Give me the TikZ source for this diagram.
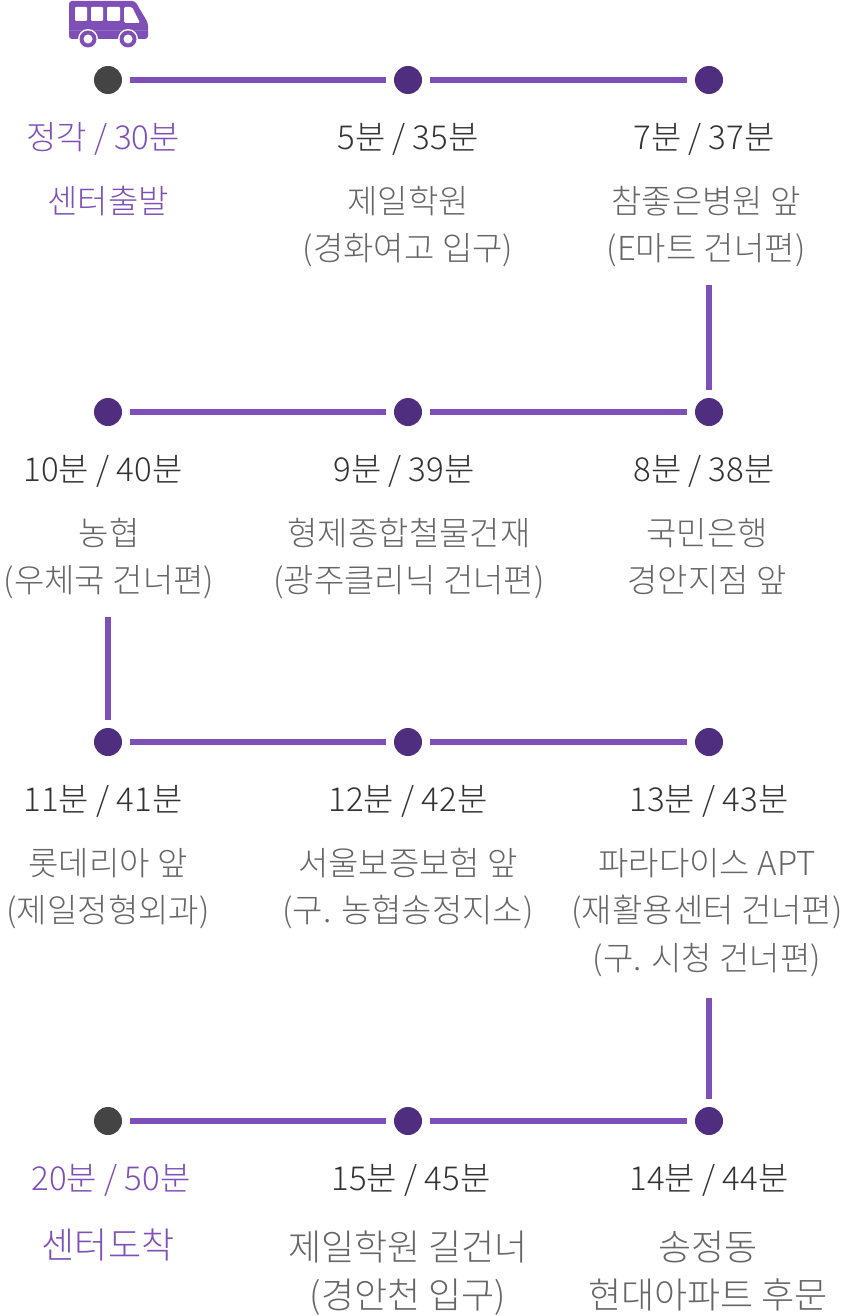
\documentclass[tikz,border=0pt]{standalone}
\usepackage{fontspec}
\setmainfont{Noto Sans CJK KR Light}
\usetikzlibrary{positioning}
\definecolor{linepurple}{HTML}{7E4FB6}
\definecolor{dotpurple}{HTML}{4F2D7F}
\definecolor{dotgrey}{HTML}{444444}
\definecolor{timegrey}{HTML}{333333}
\definecolor{namegrey}{HTML}{666666}
\tikzset{
  stopdot/.style={circle,fill=dotpurple,minimum size=28pt,inner sep=0pt,outer sep=0pt},
  enddot/.style={stopdot,fill=dotgrey},
  timelbl/.style={inner sep=0pt,outer sep=0pt,text=timegrey,align=center,font=\fontsize{33}{47.5}\selectfont,execute at begin node=\strut},
  namelbl/.style={timelbl,text=namegrey},
  lastlbl/.style={namelbl,font=\fontsize{36}{47.5}\selectfont},
  conn/.style={draw=linepurple,line width=6pt,shorten >=8pt,shorten <=8pt},
}
\begin{document}
\begin{tikzpicture}[x=1pt,y=1pt,node distance=301pt]
  \useasboundingbox (0,0) rectangle (855,-1316);
  % bus
  \begin{scope}[shift={(0,0)}]
    \fill[linepurple,rounded corners=3pt] (69,-1) -- (135,-1) -- (148,-23) -- (148,-39) -- (69,-39) -- cycle;
    \draw[white,opacity=.15,line width=.8pt] (69,-30.5) -- (148,-30.5);
    \fill[white,rounded corners=1pt] (75,-7) rectangle (87,-21) (91,-7) rectangle (103,-21) (107,-7) rectangle (120,-21);
    \fill[white,rounded corners=1.5pt] (124,-7) -- (132,-7) -- (140,-23) -- (124,-23) -- cycle;
    \foreach \wx in {88,128}{
      \fill[white] (\wx,-39) circle (10pt);
      \fill[linepurple] (\wx,-39) circle (8.5pt);
      \fill[white] (\wx,-39) circle (4.5pt);
    }
  \end{scope}
  % stops
  \node[enddot] at (108,-80) (s1) {};
  \node[stopdot,on grid,right=300pt of s1] (s2) {};
  \node[stopdot,on grid,right=of s2] (s3) {};
  \node[stopdot,on grid,below=332pt of s3] (s4) {};
  \node[stopdot,on grid,left=of s4] (s5) {};
  \node[stopdot,on grid,left=300pt of s5] (s6) {};
  \node[stopdot,on grid,below=330pt of s6] (s7) {};
  \node[stopdot,on grid,right=300pt of s7] (s8) {};
  \node[stopdot,on grid,right=of s8] (s9) {};
  \node[stopdot,on grid,below=379pt of s9] (s10) {};
  \node[stopdot,on grid,left=of s10] (s11) {};
  \node[enddot,on grid,left=300pt of s11] (s12) {};
  % labels
  \node[timelbl,below=36pt of s1.center,xshift=-5pt,text=linepurple] (t1) {정각 / 30분};
  \node[namelbl,below=100pt of s1.center,text=linepurple] (n1) {센터출발};
  \node[timelbl,below=36pt of s2.center] (t2) {5분 / 35분};
  \node[namelbl,below=106pt of s2.center] (n2) {제일학원\\(경화여고 입구)};
  \node[timelbl,below=36pt of s3.center,xshift=-5pt] (t3) {7분 / 37분};
  \node[namelbl,below=106pt of s3.center,xshift=-3pt] (n3) {참좋은병원 앞\\(E마트 건너편)};
  \node[timelbl,below=36pt of s4.center,xshift=-5pt] (t4) {8분 / 38분};
  \node[namelbl,below=106pt of s4.center,xshift=-2pt] (n4) {국민은행\\경안지점 앞};
  \node[timelbl,below=36pt of s5.center,xshift=-4pt] (t5) {9분 / 39분};
  \node[namelbl,below=106pt of s5.center,xshift=1pt] (n5) {형제종합철물건재\\(광주클리닉 건너편)};
  \node[timelbl,below=36pt of s6.center,xshift=-5pt] (t6) {10분 / 40분};
  \node[namelbl,below=106pt of s6.center,xshift=1pt] (n6) {농협\\(우체국 건너편)};
  \node[timelbl,below=36pt of s7.center,xshift=-5pt] (t7) {11분 / 41분};
  \node[namelbl,below=106pt of s7.center] (n7) {롯데리아 앞\\(제일정형외과)};
  \node[timelbl,below=36pt of s8.center] (t8) {12분 / 42분};
  \node[namelbl,below=106pt of s8.center] (n8) {서울보증보험 앞\\(구. 농협송정지소)};
  \node[timelbl,below=36pt of s9.center] (t9) {13분 / 43분};
  \node[namelbl,below=106pt of s9.center,xshift=-2pt] (n9) {파라다이스 APT\\(재활용센터 건너편)\\(구. 시청 건너편)};
  \node[timelbl,below=36pt of s10.center] (t10) {14분 / 44분};
  \node[lastlbl,below=110pt of s10.center,xshift=-1pt] (n10) {송정동\\현대아파트 후문};
  \node[timelbl,below=36pt of s11.center,xshift=3pt] (t11) {15분 / 45분};
  \node[lastlbl,below=110pt of s11.center] (n11) {제일학원 길건너\\(경안천 입구)};
  \node[timelbl,below=36pt of s12.center,xshift=3pt,text=linepurple] (t12) {20분 / 50분};
  \node[lastlbl,below=104pt of s12.center,text=linepurple] (n12) {센터도착};
  % free ends of the vertical lines
  \coordinate[above=127pt of s4.center] (v4);
  \coordinate[above=125pt of s7.center] (v7);
  \coordinate[above=123pt of s10.center] (v10);
  % connectors
  \path[conn] (s1) -- (s2);
  \path[conn] (s2) -- (s3);
  \path[conn,shorten <=0pt] (v4) -- (s4);
  \path[conn] (s4) -- (s5);
  \path[conn] (s5) -- (s6);
  \path[conn,shorten <=0pt] (v7) -- (s7);
  \path[conn] (s7) -- (s8);
  \path[conn] (s8) -- (s9);
  \path[conn,shorten <=0pt] (v10) -- (s10);
  \path[conn] (s10) -- (s11);
  \path[conn] (s11) -- (s12);
\end{tikzpicture}
\end{document}
